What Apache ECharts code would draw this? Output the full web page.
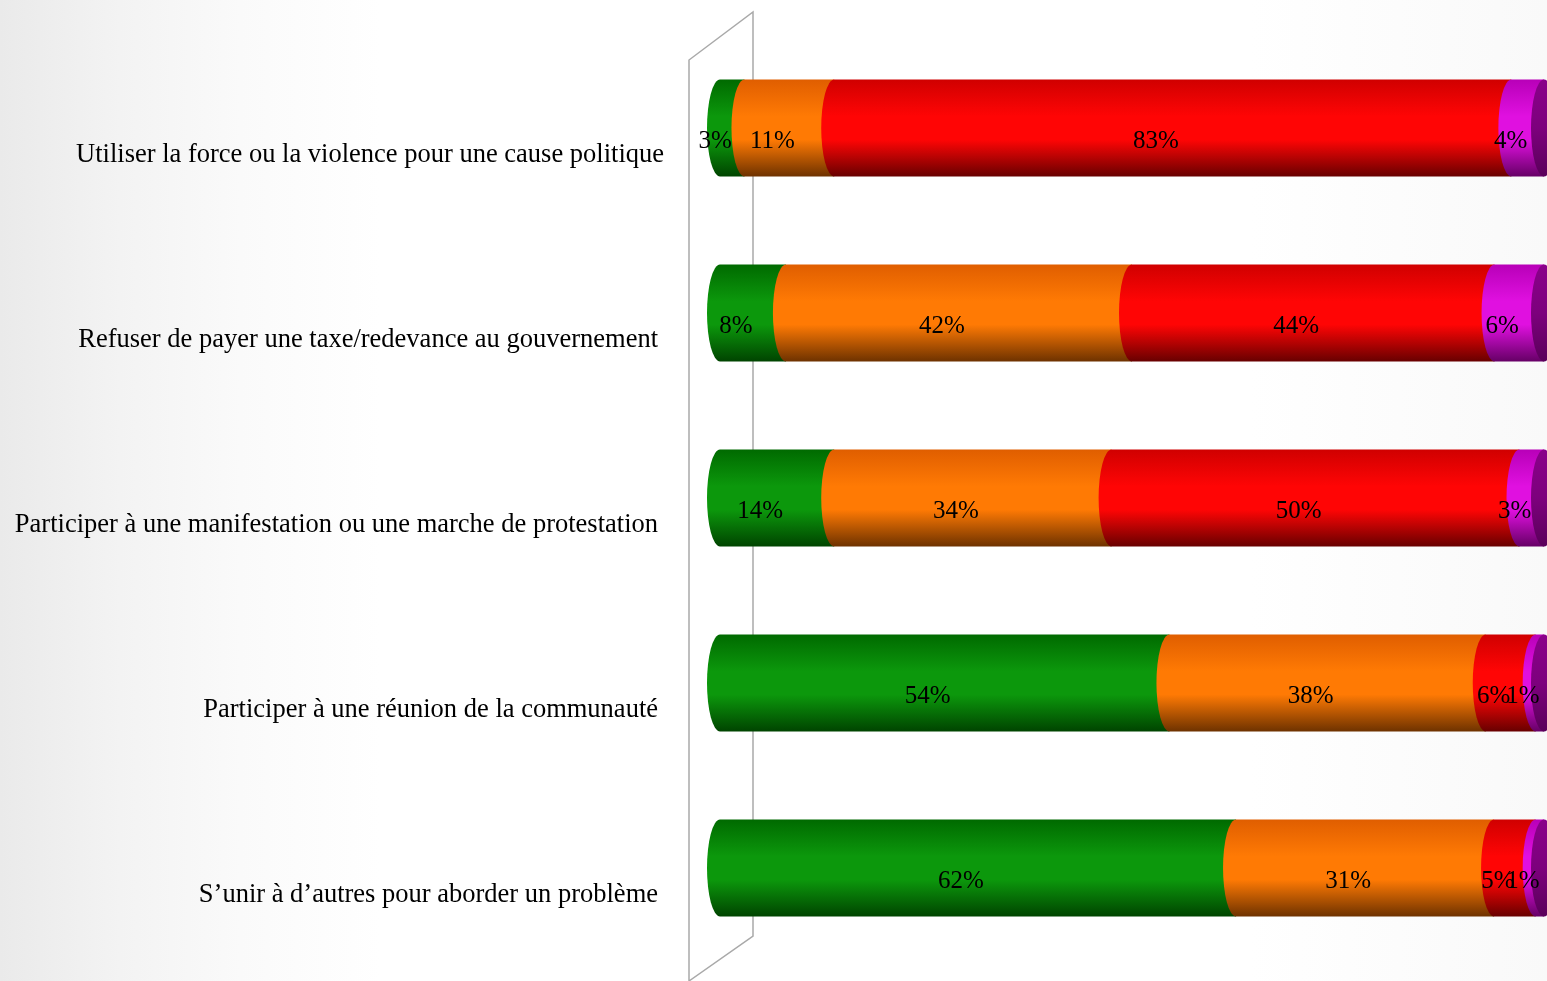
<!DOCTYPE html>
<html>
<head>
<meta charset="utf-8">
<script src="https://cdn.jsdelivr.net/npm/echarts@6/dist/echarts.min.js"></script>
<style>
html,body{margin:0;padding:0;width:1547px;height:981px;overflow:hidden;
background:linear-gradient(to right, #eaeaea 0px, #f3f3f3 120px, #fafafa 240px, #ffffff 380px, #ffffff 1250px, #f9f9f9 1547px);}
#c{width:1547px;height:981px;}
</style>
</head>
<body>
<div id="c"></div>
<script>
const categories = [
  "Utiliser la force ou la violence pour une cause politique",
  "Refuser de payer une taxe/redevance au gouvernement",
  "Participer à une manifestation ou une marche de protestation",
  "Participer à une réunion de la communauté",
  "S’unir à d’autres pour aborder un problème"
];
const seriesGreen  = [3, 8, 14, 54, 62];
const seriesOrange = [11, 42, 34, 38, 31];
const seriesRed    = [83, 44, 50, 6, 5];
const seriesPurple = [4, 6, 3, 1, 1];

const allSeries = [seriesGreen, seriesOrange, seriesRed, seriesPurple];
const palettes = [
  ['#006a00', '#0c980c', '#004400'],
  ['#e05e00', '#ff7a04', '#6e3200'],
  ['#d00000', '#ff0505', '#680000'],
  ['#b800b8', '#e010e0', '#660066']
];

// normalized (100% stacked) start/end for each segment
const rowSums = categories.map((_, i) => allSeries.reduce((s, a) => s + a[i], 0));
const segData = allSeries.map((arr, si) => arr.map((v, i) => {
  let start = 0;
  for (let k = 0; k < si; k++) start += allSeries[k][i];
  return [i, start / rowSums[i] * 100, (start + v) / rowSums[i] * 100, v];
}));

function grad(p) {
  return new echarts.graphic.LinearGradient(0, 0, 0, 1, [
    {offset: 0, color: p[0]},
    {offset: 0.38, color: p[1]},
    {offset: 0.62, color: p[1]},
    {offset: 1, color: p[2]}
  ]);
}

const RX = 13;
const FONT = '"Liberation Serif", "Times New Roman", serif';
function makeRender(si) {
  return function (params, api) {
    const cat = api.value(0);
    const a = api.coord([api.value(1), cat]);
    const b = api.coord([api.value(2), cat]);
    const h = api.size([0, 1])[1] * 0.524;
    const ry = h / 2;
    const top = a[1] - ry, bot = a[1] + ry;
    const x0 = a[0], x1 = b[0];
    const children = [{
      type: 'path',
      shape: {pathData: `M${x0} ${top} L${x1} ${top} L${x1} ${bot} L${x0} ${bot} A${RX} ${ry} 0 0 1 ${x0} ${top} Z`},
      style: {fill: grad(palettes[si])}
    }];
    if (si === allSeries.length - 1) {
      children.push({
        type: 'path',
        shape: {pathData: `M${x1} ${top} A${RX} ${ry} 0 1 1 ${x1} ${bot} A${RX} ${ry} 0 1 1 ${x1} ${top} Z`},
        style: {fill: new echarts.graphic.LinearGradient(0, 0, 0, 1, [
          {offset: 0, color: '#8a008a'}, {offset: 0.5, color: '#7d007d'}, {offset: 1, color: '#5a005a'}
        ])}
      });
    }
    return {type: 'group', children};
  };
}

const labelData = [];
segData.forEach(s => s.forEach(d => labelData.push(d)));

const series = segData.map((d, si) => ({
  type: 'custom',
  name: 's' + si,
  renderItem: makeRender(si),
  encode: {x: [1, 2], y: 0},
  data: d,
  z: 2 + si,
  silent: true
}));
series.push({
  type: 'custom',
  name: 'labels',
  z: 20,
  silent: true,
  encode: {x: [1, 2], y: 0},
  data: labelData,
  renderItem: function (params, api) {
    const cat = api.value(0);
    const a = api.coord([api.value(1), cat]);
    const b = api.coord([api.value(2), cat]);
    return {
      type: 'text',
      style: {
        text: api.value(3) + '%',
        x: (a[0] + b[0]) / 2 - 17,
        y: a[1] + 13,
        align: 'center',
        verticalAlign: 'middle',
        font: '25px ' + FONT,
        fill: '#000'
      }
    };
  }
});
series.push({
  type: 'custom',
  name: 'categories',
  z: 20,
  silent: true,
  encode: {x: 1, y: 0},
  data: categories.map((c, i) => [i, 0]),
  renderItem: function (params, api) {
    const cat = api.value(0);
    const p = api.coord([0, cat]);
    return {
      type: 'text',
      style: {
        text: categories[cat],
        x: p[0] - (cat === 0 ? 56 : 62),
        y: p[1] + 27,
        align: 'right',
        verticalAlign: 'middle',
        font: '26.5px ' + FONT,
        fill: '#000'
      }
    };
  }
});

const chart = echarts.init(document.getElementById('c'), null, {renderer: 'canvas'});
chart.setOption({
  backgroundColor: 'transparent',
  animation: false,
  grid: {left: 720, right: 3, top: 35.5, bottom: 20.5, containLabel: false},
  xAxis: {type: 'value', min: 0, max: 100, show: false},
  yAxis: {
    type: 'category',
    inverse: true,
    data: categories,
    axisLine: {show: false},
    axisTick: {show: false},
    splitLine: {show: false},
    axisLabel: {show: false}
  },
  graphic: [{
    type: 'polyline',
    z: 0,
    silent: true,
    shape: {points: [[689, 981], [689, 60], [753, 12], [753, 936], [689, 981]]},
    style: {stroke: '#a9a9a9', lineWidth: 1.5, fill: null}
  }],
  series: series
});
</script>
</body>
</html>
